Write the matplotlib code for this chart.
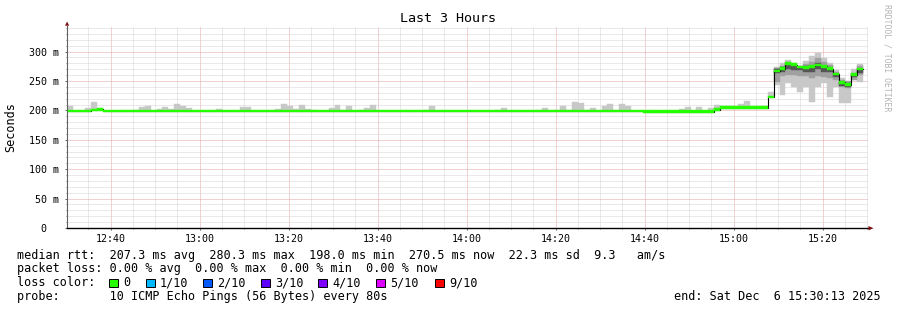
import numpy as np
import matplotlib
matplotlib.use("Agg")
import matplotlib.pyplot as plt
import matplotlib.dates as mdates
from matplotlib.patches import Polygon, Rectangle
from matplotlib.ticker import MultipleLocator, FuncFormatter

W, H = 897, 310
plt.rcParams['font.family'] = ['DejaVu Sans Mono', 'DejaVu Sans']

title = "Last 3 Hours"
t_start = np.datetime64("2025-12-06T12:30:13")
t_end = np.datetime64("2025-12-06T15:30:13")
first_step = np.datetime64("2025-12-06T12:30:20")
step_s = 80

# median rtt per 80s step (ms)
median = [
    199, 199, 199, 199, 200.5, 202, 199, 199, 199, 199,
    199, 199, 199, 199, 199, 199, 199, 199, 199, 199,
    199, 199, 199, 199, 199, 199, 199, 199, 199, 199,
    199, 199, 199, 199, 199, 199, 199, 199, 199, 199,
    199, 199, 199, 199, 199, 199, 199, 199, 199, 199,
    199, 199, 199, 199, 199, 199, 199, 199, 199, 199,
    199, 199, 199, 199, 199, 199, 199, 199, 199, 199,
    199, 199, 199, 199, 199, 199, 199, 199, 199, 199,
    199, 199, 199, 199, 199, 199, 199, 199, 199, 199,
    199, 199, 199, 199, 199, 199, 199, 198, 198, 198,
    198, 198, 198, 198, 198, 198, 198, 198, 198, 201.5,
    204.5, 204.5, 204.5, 204.5, 204.5, 204.5, 204.5, 204.5, 223, 267,
    271, 280.3, 278, 274, 273, 275, 277, 275, 271, 262,
    248, 244, 261, 270.5,
]

# top of the smoke (slowest ping) per step, None = no smoke above the median
smoke_hi = [
    208, None, None, 204, 215, 204, None, None, None, None,
    None, 201, 206, 208, None, 202, 205, 202, 211, 208,
    204, None, None, None, None, 203, None, None, None, 206,
    206, None, None, None, None, 203, 211, 208, 203, 210,
    203, 201, None, None, 204.5, 210, 201, 207, None, 201,
    204.5, 209, None, None, None, None, None, None, None, None,
    201, 208, None, None, None, None, None, None, None, None,
    None, None, 201, 204.5, None, None, None, None, None, 201,
    204.5, None, 201, 207, 201, 215, 213, 201, 204.5, None,
    207, 211, 201, 211, 208, None, None, None, None, None,
    None, None, None, 203, 206, None, 206, None, 204.5, 210,
    207, 208, None, 211, 216, None, None, 208, 232, 274,
    281, 286, 278, 276, 284, 293, 297, 289, 281, 269,
    255, 249, 271, 279,
]

# the last 15 steps have smoke below the median too
tail_first = 119
tail_lo = [244, 227, 246, 240, 232, 240, 215, 240, 246, 223, 240, 212, 212, 252, 248]
mid_lo = [249, 258, 261, 261, 258, 259, 255, 259, 257, 255, 252, 240, 238, 252, 261]
mid_hi = [272, 275, 282, 281, 275, 279, 283, 289, 283, 278, 266, 252, 250, 264, 275]
dark_lo = [264, 266, 270, 269, 268, 266, 266, 270, 266, 265, 256, 242, 240, 256, 263]
dark_hi = [270, 273, 278, 278, 274, 276, 275, 280, 275, 271, 262, 248, 246, 262, 270]

legend_rtt = "median rtt:  207.3 ms avg  280.3 ms max  198.0 ms min  270.5 ms now  22.3 ms sd  9.3   am/s"
legend_loss = "packet loss: 0.00 % avg  0.00 % max  0.00 % min  0.00 % now"
legend_probe = "probe:       10 ICMP Echo Pings (56 Bytes) every 80s"
legend_end = "end: Sat Dec  6 15:30:13 2025"
loss_labels = ['0', '1/10', '2/10', '3/10', '4/10', '5/10', '9/10']
loss_colors = ['#26ff00', '#00b8ff', '#0059ff', '#5e00ff', '#7e00ff', '#dd00ff', '#ff0000']
loss_box_x = [109, 146, 203, 261, 318, 376, 435]


def fx(px):
    return px / W


def fy(py):
    return 1 - py / H


n = len(median)
left = mdates.date2num(first_step + np.arange(n) * np.timedelta64(step_s, 's'))
edges = mdates.date2num(first_step + np.arange(n + 1) * np.timedelta64(step_s, 's'))
bw = step_s / 86400.0
med = np.array(median, dtype=float)

fig = plt.figure(figsize=(W / 100, H / 100), dpi=100)
fig.patch.set_facecolor('white')
ax = fig.add_axes([fx(67), fy(228), (868 - 67) / W, (228 - 26) / H])
ax.set_facecolor('white')

# smoke
hi = np.array([np.nan if v is None else v for v in smoke_hi])
lo = med.copy()
lo[tail_first:] = tail_lo
ok = ~np.isnan(hi)
ax.bar(left[ok], hi[ok] - lo[ok], bottom=lo[ok], width=bw, align='edge',
       color='#c8c8c8', edgecolor='#c8c8c8', lw=0.3, zorder=2)
tl = left[tail_first:]
ax.bar(tl, np.array(mid_hi) - np.array(mid_lo), bottom=mid_lo, width=bw, align='edge',
       color='#a0a0a0', edgecolor='#a0a0a0', lw=0.3, zorder=3)
ax.bar(tl, np.array(dark_hi) - np.array(dark_lo), bottom=dark_lo, width=bw, align='edge',
       color='#555555', edgecolor='#555555', lw=0.3, zorder=4)

# median line + loss colour band
ax.step(edges, np.append(med, med[-1]), where='post', color='black', lw=0.8, zorder=5)
ax.bar(left, np.full(n, 4.6), bottom=med - 2.3, width=bw, align='edge',
       color=loss_colors[0], edgecolor=loss_colors[0], lw=0.3, zorder=6)

ax.set_xlim(mdates.date2num(t_start), mdates.date2num(t_end))
ax.set_ylim(0, 343.5)

ax.xaxis.set_major_locator(mdates.MinuteLocator(byminute=[0, 20, 40]))
ax.xaxis.set_minor_locator(mdates.MinuteLocator(byminute=range(0, 60, 5)))
ax.xaxis.set_major_formatter(mdates.DateFormatter('%H:%M'))
ax.yaxis.set_major_locator(MultipleLocator(50))
ax.yaxis.set_minor_locator(MultipleLocator(10))
ax.yaxis.set_major_formatter(FuncFormatter(lambda v, p: "0  " if v == 0 else f"{v:g} m"))

ax.set_axisbelow(True)
ax.grid(which='minor', color='#d4d4d4', linestyle=(0, (1, 1)), lw=0.72)
ax.grid(which='major', color='#e4a4a4', linestyle=(0, (1, 1)), lw=0.72)

for s in ['top', 'right']:
    ax.spines[s].set_visible(False)
ax.spines['left'].set_color('#606060')
ax.spines['left'].set_linewidth(0.8)
ax.spines['bottom'].set_color('black')
ax.spines['bottom'].set_linewidth(1.0)
ax.tick_params(which='major', length=1.5, width=0.7, color='#606060', labelsize=7.2, pad=2.5)
ax.tick_params(which='minor', length=1.0, width=0.7, color='#808080')
ax.tick_params(axis='y', pad=4.5)

# axis arrows
fig.add_artist(Polygon([[fx(65), fy(25.7)], [fx(69.2), fy(25.7)], [fx(67.1), fy(21.5)]],
                       closed=True, transform=fig.transFigure, color='#7f1010', lw=0))
fig.add_artist(Polygon([[fx(868.5), fy(226)], [fx(868.5), fy(230.4)], [fx(873.5), fy(228.2)]],
                       closed=True, transform=fig.transFigure, color='#7f1010', lw=0))

fs = 8.45
fig.text(fx(448), fy(19), title, ha='center', va='center', fontsize=9.6)
fig.text(fx(11), fy(127), "Seconds", rotation=90, ha='center', va='center', fontsize=fs)
fig.text(fx(887), fy(4), "RRDTOOL / TOBI OETIKER", rotation=270, ha='center', va='top',
         fontsize=5.9, color='#b4b4b4')

fig.text(fx(16.7), fy(255), legend_rtt, ha='left', va='center', fontsize=fs)
fig.text(fx(16.7), fy(268.5), legend_loss, ha='left', va='center', fontsize=fs)
fig.text(fx(16.7), fy(282.5), "loss color:", ha='left', va='center', fontsize=fs)
for bx, lab, col in zip(loss_box_x, loss_labels, loss_colors):
    fig.add_artist(Rectangle((fx(bx), fy(286.5)), 8.5 / W, 8 / H, transform=fig.transFigure,
                             facecolor=col, edgecolor='black', lw=0.7))
    fig.text(fx(bx + 14), fy(282.5), lab, ha='left', va='center', fontsize=fs)
fig.text(fx(16.7), fy(296.5), legend_probe, ha='left', va='center', fontsize=fs)
fig.text(fx(881), fy(296.5), legend_end, ha='right', va='center', fontsize=fs)

fig.savefig("out.png", dpi=100)
